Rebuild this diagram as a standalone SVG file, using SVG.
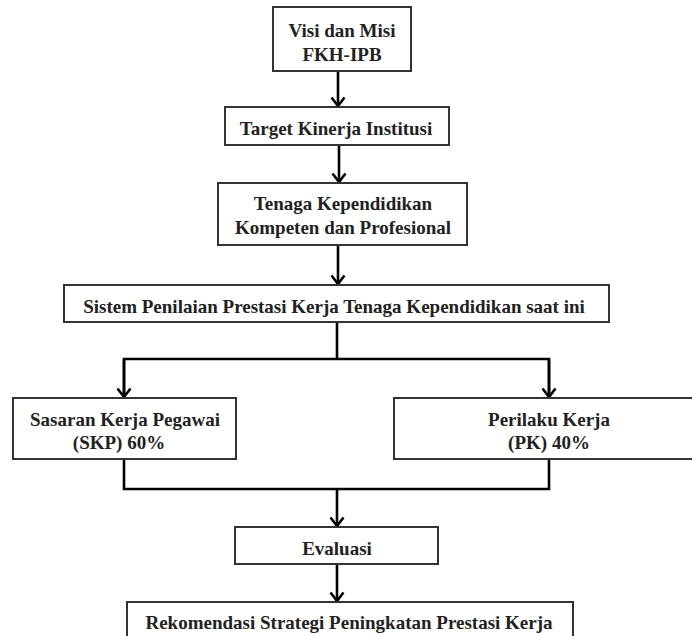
<svg xmlns="http://www.w3.org/2000/svg" width="692" height="636" viewBox="0 0 692 636">
<style>
.box{fill:#fff;stroke:#333;stroke-width:2}
.t{font-family:"Liberation Serif","Times New Roman",serif;font-weight:bold;font-size:19px;fill:#222;text-anchor:middle}
.c{fill:none;stroke:#000;stroke-width:2.6}
</style>
<defs>
<marker id="ah" viewBox="0 0 12 16" refX="10.5" refY="8" markerWidth="12" markerHeight="16" markerUnits="userSpaceOnUse" orient="auto">
<path d="M2 1.5 L10.5 8 L2 14.5" fill="none" stroke="#000" stroke-width="2.6"/>
</marker>
</defs>
<rect width="692" height="636" fill="#fff"/>
<g id="connectors">
<path class="c" d="M338 71 V106" marker-end="url(#ah)"/>
<path class="c" d="M339 145 V182" marker-end="url(#ah)"/>
<path class="c" d="M338 245 V284" marker-end="url(#ah)"/>
<path class="c" d="M337 322 V359"/>
<path class="c" d="M124 397 V359 H549 V397"/>
<path class="c" d="M124 359 V397" marker-end="url(#ah)"/>
<path class="c" d="M549 359 V397" marker-end="url(#ah)"/>
<path class="c" d="M124 459 V489 H549 V459"/>
<path class="c" d="M337 489 V526" marker-end="url(#ah)"/>
<path class="c" d="M337 564 V601" marker-end="url(#ah)"/>
</g>
<g id="n1">
<rect class="box" x="273" y="7" width="138" height="64"/>
<text class="t" x="342" y="37">Visi dan Misi</text>
<text class="t" x="342" y="61">FKH-IPB</text>
</g>
<g id="n2">
<rect class="box" x="225" y="107" width="224" height="38"/>
<text class="t" x="336" y="135">Target Kinerja Institusi</text>
</g>
<g id="n3">
<rect class="box" x="218" y="183" width="249" height="62"/>
<text class="t" x="343" y="210">Tenaga Kependidikan</text>
<text class="t" x="343" y="234">Kompeten dan Profesional</text>
</g>
<g id="n4">
<rect class="box" x="64" y="285" width="545" height="37"/>
<text class="t" x="334" y="313">Sistem Penilaian Prestasi Kerja Tenaga Kependidikan saat ini</text>
</g>
<g id="n5">
<rect class="box" x="13" y="398" width="223" height="61"/>
<text class="t" x="125" y="426">Sasaran Kerja Pegawai</text>
<text class="t" x="119" y="449">(SKP) 60%</text>
</g>
<g id="n6">
<rect class="box" x="394" y="398" width="310" height="61"/>
<text class="t" x="549" y="426">Perilaku Kerja</text>
<text class="t" x="549" y="449">(PK) 40%</text>
</g>
<g id="n7">
<rect class="box" x="235" y="527" width="203" height="37"/>
<text class="t" x="337" y="555">Evaluasi</text>
</g>
<g id="n8">
<rect class="box" x="127" y="602" width="446" height="50"/>
<text class="t" x="349" y="629">Rekomendasi Strategi Peningkatan Prestasi Kerja</text>
</g>
</svg>
